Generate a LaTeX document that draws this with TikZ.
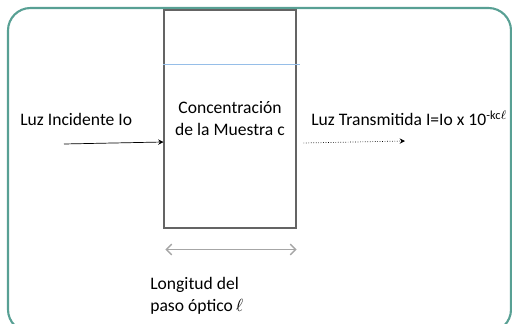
\documentclass[tikz,border=0pt]{standalone}
\usepackage{fontspec}
\setmainfont{Carlito}
\usepackage{tikz}
\usetikzlibrary{positioning, arrows.meta, calc}
\definecolor{marco}{RGB}{88,160,148}
\definecolor{celda}{RGB}{100,100,100}
\definecolor{nivel}{RGB}{150,190,232}
\definecolor{regla}{RGB}{166,166,166}
\tikzset{
  cubeta/.style={rectangle, draw=celda, line width=0.6pt, minimum width=2.64cm, minimum height=4.36cm, align=center},
  etiqueta/.style={inner sep=0pt, align=left},
  luz/.style={thin,-{Stealth[length=3pt,width=3pt]}},
  luzpunteada/.style={thin,densely dotted,-{Stealth[length=3pt,width=3pt]}},
  medida/.style={line width=0.8pt, draw=regla, {Straight Barb[length=3pt]}-{Straight Barb[length=3pt]}}
}

\begin{document}
\begin{tikzpicture}[x=0.02cm, y=-0.02cm, every node/.style={font=\fontsize{10}{12.5}\selectfont}]
    \useasboundingbox (0,0) rectangle (512,324);
    \clip (0,0) rectangle (512,324);

    % Marco
    \draw[marco, line width=1.2pt, rounded corners=0.45cm] (8,8) rectangle (511,332);

    % Cubeta
    \node (cell) [cubeta] at (230,119) {Concentración\\de la Muestra c};
    \draw[nivel, line width=1pt] ([yshift=-1.1cm]cell.north west) -- ([yshift=-1.1cm, xshift=2pt]cell.north east);

    % Luz incidente
    \node (incident) [etiqueta, anchor=west] at (20,119) {Luz Incidente Io};
    \coordinate (inStart) at (64,144);
    \draw [luz] (inStart) -- ($(cell.west)+(0,23)$);

    % Luz transmitida
    \node (transmitted) [etiqueta, anchor=west] at (311,118) {Luz Transmitida I=Io x 10\textsuperscript{-kc$\ell$}};
    \coordinate (outEnd) at (405,141);
    \draw [luzpunteada] ($(cell.east)+(7,24)$) -- (outEnd);

    % Paso optico
    \draw [medida] ($(cell.south west)+(2,21)$) -- ($(cell.south east)+(0,21)$);
    \node (path) [etiqueta, anchor=north west] at (150,277) {Longitud del\\paso óptico\,$\ell$};

\end{tikzpicture}
\end{document}
